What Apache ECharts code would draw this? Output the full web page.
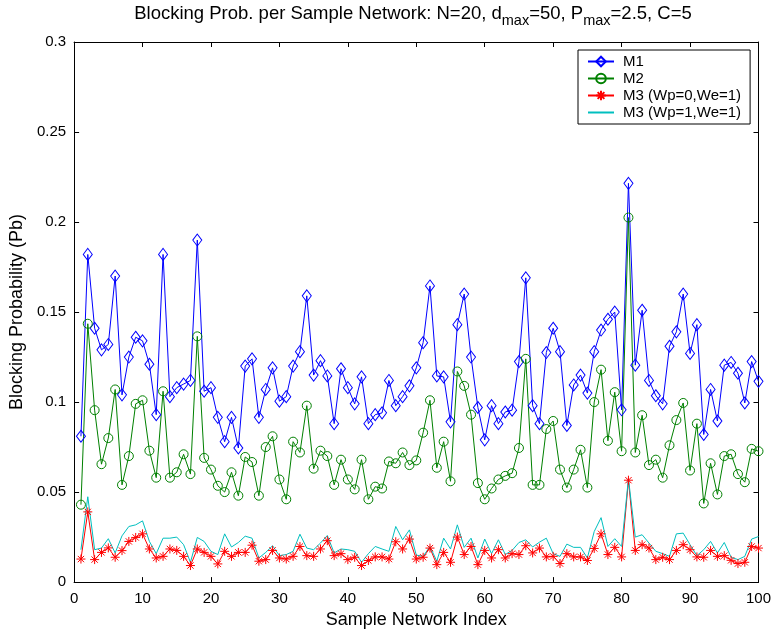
<!DOCTYPE html>
<html>
<head>
<meta charset="utf-8">
<script src="https://cdn.jsdelivr.net/npm/echarts@6/dist/echarts.min.js"></script>
<style>
  html, body { margin: 0; padding: 0; background: #fff; }
  #chart { width: 774px; height: 634px; }
</style>
</head>
<body>
<div id="chart"></div>
<script>
// Blocking probability for each of the 100 sample networks
const m1 = [
  0.081, 0.182, 0.141, 0.129, 0.132, 0.170, 0.104, 0.125, 0.136, 0.134,
  0.121, 0.093, 0.182, 0.103, 0.108, 0.110, 0.112, 0.190, 0.106, 0.108,
  0.0915, 0.078, 0.0915, 0.0745, 0.120, 0.124, 0.0915, 0.107, 0.119, 0.1005,
  0.103, 0.120, 0.128, 0.159, 0.115, 0.123, 0.1145, 0.088, 0.1185, 0.108,
  0.099, 0.114, 0.088, 0.093, 0.094, 0.112, 0.098, 0.103, 0.109, 0.119,
  0.133, 0.1645, 0.1145, 0.114, 0.089, 0.143, 0.160, 0.125, 0.097, 0.079,
  0.098, 0.088, 0.0945, 0.0955, 0.1225, 0.169, 0.098, 0.088, 0.1275, 0.141,
  0.128, 0.087, 0.1095, 0.115, 0.105, 0.128, 0.140, 0.146, 0.150, 0.0957,
  0.2215, 0.1205, 0.151, 0.112, 0.1035, 0.099, 0.131, 0.139, 0.160, 0.127,
  0.143, 0.082, 0.107, 0.0895, 0.1205, 0.122, 0.116, 0.0995, 0.1225, 0.1115
];
const m2 = [
  0.043, 0.1435, 0.0955, 0.0655, 0.080, 0.107, 0.054, 0.070, 0.099, 0.101,
  0.073, 0.058, 0.106, 0.058, 0.061, 0.071, 0.060, 0.1365, 0.069, 0.0625,
  0.0535, 0.050, 0.061, 0.048, 0.0695, 0.0667, 0.048, 0.075, 0.081, 0.057,
  0.046, 0.078, 0.072, 0.098, 0.063, 0.073, 0.070, 0.054, 0.068, 0.057,
  0.0515, 0.068, 0.046, 0.053, 0.052, 0.067, 0.066, 0.072, 0.065, 0.0676,
  0.083, 0.101, 0.0635, 0.078, 0.056, 0.117, 0.109, 0.093, 0.055, 0.046,
  0.052, 0.057, 0.059, 0.0605, 0.0745, 0.124, 0.054, 0.054, 0.085, 0.0895,
  0.0625, 0.0525, 0.0625, 0.0735, 0.0525, 0.100, 0.118, 0.0785, 0.1055, 0.0727,
  0.2025, 0.072, 0.0927, 0.065, 0.068, 0.058, 0.076, 0.090, 0.0995, 0.062,
  0.088, 0.0437, 0.066, 0.0487, 0.070, 0.071, 0.060, 0.0555, 0.074, 0.0727
];
const m3We = [
  0.0128, 0.039, 0.0125, 0.0165, 0.019, 0.0138, 0.0175, 0.0226, 0.0248, 0.0268,
  0.0184, 0.0134, 0.0143, 0.0184, 0.0176, 0.0143, 0.0092, 0.0184, 0.0165, 0.0143,
  0.0101, 0.0171, 0.0143, 0.0165, 0.0165, 0.0205, 0.0116, 0.0125, 0.0176, 0.0134,
  0.0128, 0.0143, 0.0198, 0.0147, 0.0143, 0.0184, 0.023, 0.0147, 0.0158, 0.0125,
  0.0138, 0.0092, 0.012, 0.014, 0.014, 0.0128, 0.0224, 0.0184, 0.0239, 0.0128,
  0.0138, 0.0189, 0.0097, 0.0165, 0.011, 0.025, 0.0153, 0.0198, 0.0097, 0.0176,
  0.0134, 0.018, 0.0134, 0.0158, 0.0153, 0.0202, 0.0162, 0.0189, 0.014, 0.0143,
  0.0103, 0.0158, 0.014, 0.014, 0.012, 0.0187, 0.0268, 0.0153, 0.0193, 0.014,
  0.0566, 0.0176, 0.0208, 0.0189, 0.0125, 0.0138, 0.0125, 0.0176, 0.0208, 0.018,
  0.014, 0.0138, 0.0176, 0.0143, 0.0147, 0.0121, 0.0103, 0.011, 0.0198, 0.0189
];
const m3WpWe = [
  0.018, 0.0474, 0.018, 0.0189, 0.0241, 0.0162, 0.0257, 0.0309, 0.0318, 0.034,
  0.0226, 0.0158, 0.0244, 0.0244, 0.025, 0.0208, 0.011, 0.0248, 0.0226, 0.0171,
  0.0153, 0.0268, 0.0195, 0.022, 0.0255, 0.0244, 0.0134, 0.0165, 0.0202, 0.0147,
  0.0153, 0.0171, 0.0266, 0.0189, 0.018, 0.0217, 0.0259, 0.0162, 0.0184, 0.018,
  0.0171, 0.011, 0.0158, 0.0198, 0.0184, 0.0171, 0.0309, 0.0235, 0.029, 0.015,
  0.0143, 0.0198, 0.0116, 0.0244, 0.0184, 0.0318, 0.0193, 0.0244, 0.0134, 0.0239,
  0.0158, 0.0235, 0.0153, 0.0176, 0.022, 0.0235, 0.0195, 0.0222, 0.0244, 0.0158,
  0.0143, 0.0211, 0.0193, 0.0193, 0.0134, 0.0281, 0.0358, 0.0198, 0.0241, 0.0198,
  0.0575, 0.025, 0.0263, 0.0217, 0.0171, 0.0158, 0.0143, 0.0268, 0.0272, 0.0208,
  0.0147, 0.018, 0.0226, 0.0162, 0.022, 0.0138, 0.0125, 0.0143, 0.0239, 0.0253
];
const seriesNames = ['M1', 'M2', 'M3 (Wp=0,We=1)', 'M3 (Wp=1,We=1)'];
const xTicks = [0, 10, 20, 30, 40, 50, 60, 70, 80, 90, 100];
const yTicks = [0, 0.05, 0.1, 0.15, 0.2, 0.25, 0.3];

// network index 1..100 along the x axis
const networkIndex = m1.map((_, i) => i + 1);
const pairs = vals => vals.map((v, i) => [networkIndex[i], v]);

const FONT = '"Liberation Sans", Arial, Helvetica, sans-serif';
const starPath = 'path://M5,0L5,10M0,5L10,5M1.5,1.5L8.5,8.5M1.5,8.5L8.5,1.5';
const CLEAR = 'rgba(0,0,0,0)';

const chart = echarts.init(document.getElementById('chart'), null, { renderer: 'canvas' });

const tickAxisCommon = {
  axisLine: { show: true, onZero: false, lineStyle: { color: '#000', width: 1 } },
  axisTick: { show: true, inside: true, length: 5, lineStyle: { color: '#000' } },
  splitLine: { show: false }
};

chart.setOption({
  animation: false,
  backgroundColor: '#fff',
  textStyle: { fontFamily: FONT },
  title: {
    text: '{a|Blocking Prob. per Sample Network: N=20, d}{s|max}{a|=50, P}{s|max}{a|=2.5, C=5}',
    left: 413,
    top: 0,
    padding: 0,
    textAlign: 'center',
    textStyle: {
      fontWeight: 'normal',
      rich: {
        a: { fontFamily: FONT, fontSize: 18.5, fontWeight: 'normal', color: '#000', lineHeight: 28 },
        s: { fontFamily: FONT, fontSize: 14.5, fontWeight: 'normal', color: '#000', lineHeight: 12, verticalAlign: 'bottom' }
      }
    }
  },
  legend: {
    orient: 'vertical',
    left: 578,
    top: 50,
    padding: [4, 9, 4, 9],
    backgroundColor: '#fff',
    borderColor: '#000',
    borderWidth: 1,
    borderRadius: 0,
    itemWidth: 26,
    itemHeight: 12,
    itemGap: 2,
    data: seriesNames,
    textStyle: { fontFamily: FONT, fontSize: 15, color: '#000', lineHeight: 15, padding: [0, 0, 0, 4] }
  },
  grid: { left: 68, right: 15, top: 42, bottom: 48, containLabel: false },
  xAxis: [
    Object.assign({
      type: 'value', min: 0, max: 100, interval: 10,
      name: 'Sample Network Index', nameLocation: 'middle', nameGap: 28,
      nameTextStyle: { fontFamily: FONT, fontSize: 18, color: '#000' },
      axisLabel: {
        fontFamily: FONT, fontSize: 15, color: '#000', margin: 9,
        formatter: v => (xTicks.indexOf(v) >= 0 ? String(v) : '')
      }
    }, tickAxisCommon),
    Object.assign({
      type: 'value', min: 0, max: 100, interval: 10, position: 'top',
      axisLabel: { show: false }
    }, tickAxisCommon)
  ],
  yAxis: [
    Object.assign({
      type: 'value', min: 0, max: 0.3, interval: 0.05,
      name: 'Blocking Probability (Pb)', nameLocation: 'middle', nameGap: 37,
      nameTextStyle: { fontFamily: FONT, fontSize: 18, color: '#000' },
      axisLabel: {
        fontFamily: FONT, fontSize: 15, color: '#000', margin: 8,
        formatter: v => {
          const t = yTicks.find(y => Math.abs(y - v) < 1e-9);
          return t === undefined ? '' : String(t);
        }
      }
    }, tickAxisCommon),
    Object.assign({
      type: 'value', min: 0, max: 0.3, interval: 0.05, position: 'right',
      axisLabel: { show: false }
    }, tickAxisCommon)
  ],
  series: [
    {
      name: seriesNames[0], type: 'line', data: pairs(m1),
      symbol: 'diamond', symbolSize: [9, 12], showAllSymbol: true,
      lineStyle: { color: '#0000ff', width: 1 },
      itemStyle: { color: CLEAR, borderColor: '#0000ff', borderWidth: 1 },
      emphasis: { disabled: true }
    },
    {
      name: seriesNames[1], type: 'line', data: pairs(m2),
      symbol: 'circle', symbolSize: 9, showAllSymbol: true,
      lineStyle: { color: '#008000', width: 1 },
      itemStyle: { color: CLEAR, borderColor: '#008000', borderWidth: 1 },
      emphasis: { disabled: true }
    },
    {
      name: seriesNames[2], type: 'line', data: pairs(m3We),
      symbol: starPath, symbolSize: 9, showAllSymbol: true,
      lineStyle: { color: '#ff0000', width: 1 },
      itemStyle: { color: CLEAR, borderColor: '#ff0000', borderWidth: 1 },
      emphasis: { disabled: true }
    },
    {
      name: seriesNames[3], type: 'line', data: pairs(m3WpWe),
      symbol: 'none',
      lineStyle: { color: '#00bfbf', width: 1 },
      itemStyle: { color: CLEAR, borderColor: CLEAR, borderWidth: 0 },
      emphasis: { disabled: true }
    }
  ]
});
</script>
</body>
</html>
